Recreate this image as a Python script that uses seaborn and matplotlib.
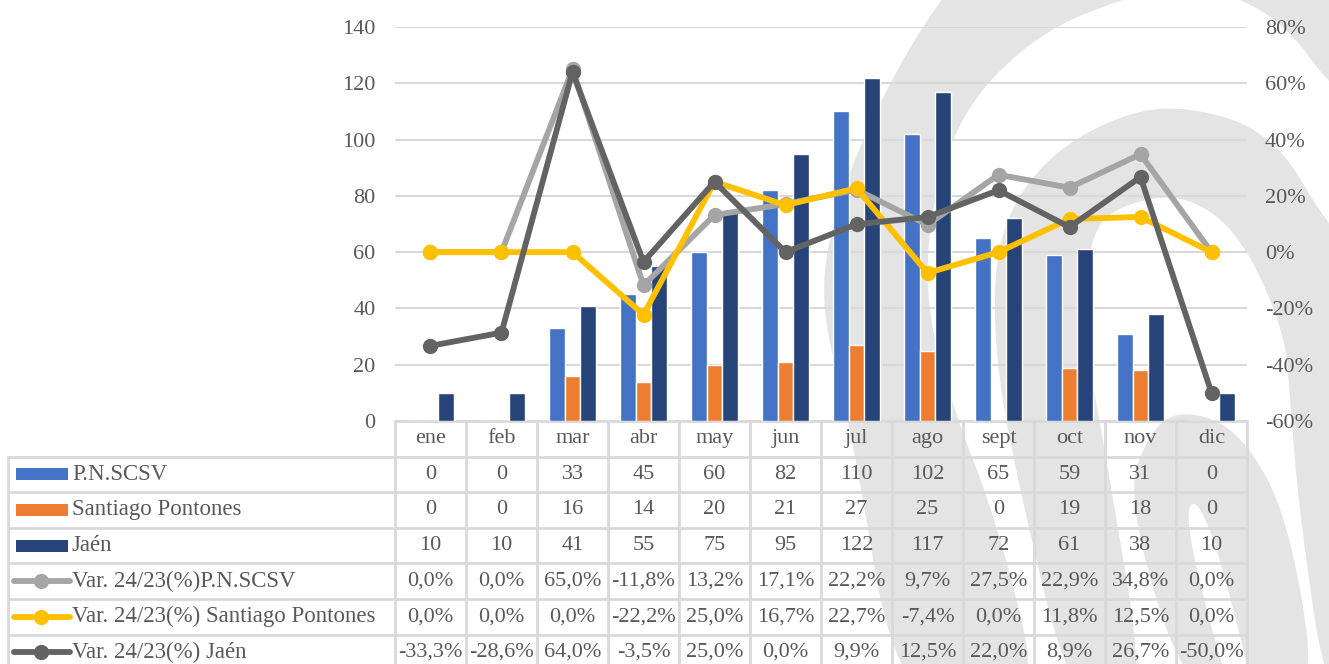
import numpy as np
import pandas as pd
import seaborn as sns
import matplotlib.pyplot as plt
from matplotlib.patches import Polygon, Rectangle
from matplotlib.lines import Line2D

# data
months = ['ene', 'feb', 'mar', 'abr', 'may', 'jun', 'jul', 'ago', 'sept', 'oct', 'nov', 'dic']
pn = [0, 0, 33, 45, 60, 82, 110, 102, 65, 59, 31, 0]
sp = [0, 0, 16, 14, 20, 21, 27, 25, 0, 19, 18, 0]
jaen = [10, 10, 41, 55, 75, 95, 122, 117, 72, 61, 38, 10]
var_pn = [0.0, 0.0, 65.0, -11.8, 13.2, 17.1, 22.2, 9.7, 27.5, 22.9, 34.8, 0.0]
var_sp = [0.0, 0.0, 0.0, -22.2, 25.0, 16.7, 22.7, -7.4, 0.0, 11.8, 12.5, 0.0]
var_jaen = [-33.3, -28.6, 64.0, -3.5, 25.0, 0.0, 9.9, 12.5, 22.0, 8.9, 26.7, -50.0]

bar_names = ['P.N.SCSV', 'Santiago Pontones', 'Jaén']
line_names = ['Var. 24/23(%)P.N.SCSV', 'Var. 24/23(%) Santiago Pontones', 'Var. 24/23(%) Jaén']
bar_colors = ['#4472C4', '#ED7D31', '#264478']
line_colors = ['#A5A5A5', '#FFC000', '#636363']

txt = '#595959'
grid_c = '#D9D9D9'
font = ['Liberation Serif', 'DejaVu Serif']
fs = 16

sns.set_theme(style='white')
plt.rcParams['font.family'] = font

df_bars = pd.DataFrame({'mes': months * 3,
                        'valor': pn + sp + jaen,
                        'serie': np.repeat(bar_names, 12)})
df_var = pd.DataFrame({'pos': list(range(12)) * 3,
                       'valor': var_pn + var_sp + var_jaen,
                       'serie': np.repeat(line_names, 12)})

W, H = 1329, 664
fig = plt.figure(figsize=(W / 100, H / 100), dpi=100)
fig.patch.set_facecolor('white')


def smooth(pts, n=4):
    # chaikin corner cutting, closed outline
    p = np.asarray(pts, float)
    for _ in range(n):
        nxt = np.roll(p, -1, axis=0)
        q = 0.75 * p + 0.25 * nxt
        r = 0.25 * p + 0.75 * nxt
        p = np.empty((2 * len(q), 2))
        p[0::2] = q
        p[1::2] = r
    return p


# background watermark (decoration only, pixel coordinates)
bg = fig.add_axes([0, 0, 1, 1], zorder=-5)
bg.set_xlim(0, W)
bg.set_ylim(H, 0)
bg.axis('off')
wm = '#E4E4E4'
band1 = [(900, 720), (850, 420), (818, 300), (838, 200), (880, 100), (935, 5), (1000, -70),
         (1200, -160), (1420, -60), (1420, 160), (1329, 85), (1290, 30), (1240, -3),
         (1183, -14), (1127, -3), (1040, 32), (965, 105), (932, 200), (925, 300),
         (950, 400), (1000, 530), (1045, 720)]
band2 = [(1075, 720), (1010, 450), (993, 332), (998, 233), (1040, 163), (1110, 118),
         (1180, 104), (1273, 132), (1330, 230), (1420, 330), (1420, 720), (1330, 720),
         (1300, 520), (1290, 400), (1285, 332), (1240, 233), (1183, 193), (1120, 205),
         (1090, 233), (1083, 332), (1105, 450), (1150, 720)]
band3 = [(1195, 720), (1125, 500), (1150, 430), (1183, 409), (1240, 430), (1290, 520),
         (1320, 720)]
gap = [(1180, 508), (1205, 500), (1262, 720), (1236, 720)]
for pts, col in ((band1, wm), (band2, wm), (band3, wm), (gap, 'white')):
    bg.add_patch(Polygon(smooth(pts), closed=True, color=col, lw=0))

left, right, top, bottom = 395, 1247, 27, 421
ax = fig.add_axes([left / W, 1 - bottom / H, (right - left) / W, (bottom - top) / H])
ax.set_facecolor('none')

sns.barplot(data=df_bars, x='mes', y='valor', hue='serie', order=months,
            hue_order=bar_names, palette=bar_colors, width=0.675,
            saturation=1, legend=False, ax=ax, zorder=2)
ax.set_xlim(-0.5, 11.5)
ax.set_ylim(0, 140)
ax.set_yticks(range(0, 141, 20))
ax.yaxis.grid(True, color=grid_c, lw=1.5, zorder=0)
ax.set_axisbelow(True)
ax.set_xlabel('')
ax.set_ylabel('')
ax.set_xticks([])
ax.tick_params(axis='y', length=0, pad=14, labelsize=fs, labelcolor=txt)
for s in ax.spines.values():
    s.set_visible(False)

ax2 = ax.twinx()
ax2.set_facecolor('none')
sns.lineplot(data=df_var, x='pos', y='valor', hue='serie', hue_order=line_names,
             palette=line_colors, marker='o', markersize=11, markeredgewidth=0,
             linewidth=4.2, legend=False, ax=ax2)
ax2.set_ylim(-60, 80)
ax2.set_yticks(range(-60, 81, 20))
ax2.set_yticklabels([f'{v}%' for v in range(-60, 81, 20)])
ax2.set_xlim(-0.5, 11.5)
ax2.set_xlabel('')
ax2.set_ylabel('')
ax2.tick_params(axis='y', length=0, pad=13, labelsize=fs, labelcolor=txt)
for s in ax2.spines.values():
    s.set_visible(False)

# data table below the plot
ph = bottom - top
pw = right - left
row_px = 35.6
xt = ax.get_xaxis_transform()


def yfrac(px):
    return (bottom - px) / ph


def xfrac(px):
    return (px - left) / pw


edges = [bottom + row_px * k for k in range(8)]
lk = dict(color=grid_c, lw=2, clip_on=False, zorder=1)
ax.plot([0, 1], [0, 0], transform=ax.transAxes, **lk)
for e in edges[1:7]:
    ax.plot([xfrac(8), 1], [yfrac(e)] * 2, transform=ax.transAxes, **lk)
for i in range(13):
    ax.plot([i - 0.5] * 2, [0, yfrac(H + 5)], transform=xt, **lk)
ax.plot([xfrac(8)] * 2, [yfrac(edges[1]), yfrac(H + 5)], transform=ax.transAxes, **lk)

tk = dict(fontsize=fs, color=txt, ha='center', va='center', clip_on=False, transform=xt)
for i, m in enumerate(months):
    ax.text(i, yfrac((edges[0] + edges[1]) / 2), m, **tk)

rows = [[str(v) for v in pn], [str(v) for v in sp], [str(v) for v in jaen]]
for series in (var_pn, var_sp, var_jaen):
    rows.append([f'{v:.1f}%'.replace('.', ',') for v in series])

labels = bar_names + line_names
for r, vals in enumerate(rows):
    yc = yfrac((edges[r + 1] + edges[r + 2]) / 2)
    for i, v in enumerate(vals):
        ax.text(i, yc, v, **tk)
    ax.text(xfrac(72), yc, labels[r], fontsize=16.5, color=txt, ha='left', va='center',
            clip_on=False, transform=ax.transAxes)
    if r < 3:
        ax.add_patch(Rectangle((xfrac(16), yc - 6 / ph), xfrac(68) - xfrac(16), 12 / ph,
                               transform=ax.transAxes, color=bar_colors[r],
                               clip_on=False, lw=0))
    else:
        c = line_colors[r - 3]
        ax.add_line(Line2D([xfrac(14), xfrac(70)], [yc, yc], transform=ax.transAxes,
                           color=c, lw=4.2, solid_capstyle='round', clip_on=False))
        ax.add_line(Line2D([xfrac(41)], [yc], transform=ax.transAxes, color=c,
                           marker='o', markersize=11, markeredgewidth=0, clip_on=False))

fig.savefig('out.png', dpi=100)
